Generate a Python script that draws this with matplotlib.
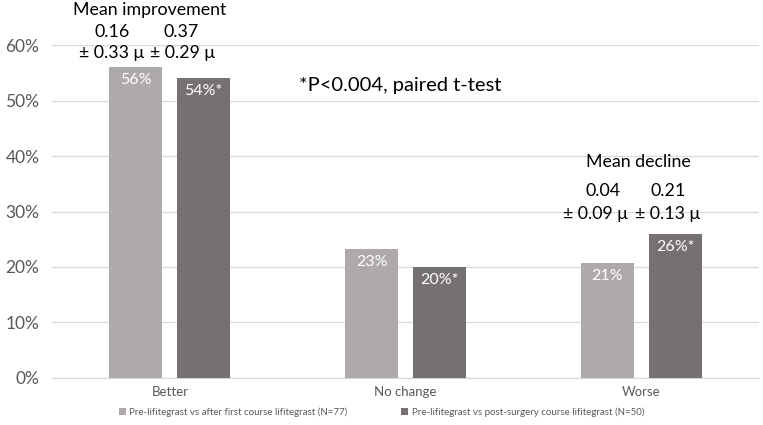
import matplotlib
matplotlib.use("Agg")
import matplotlib.pyplot as plt
import numpy as np

plt.rcParams['font.family'] = ['Lato', 'DejaVu Sans']

categories = ["Better", "No change", "Worse"]
series1_name = "Pre-lifitegrast vs after first course lifitegrast (N=77)"
series2_name = "Pre-lifitegrast vs post-surgery course lifitegrast (N=50)"
series1 = [0.56, 0.233, 0.207]
series2 = [0.54, 0.20, 0.259]
labels1 = ["56%", "23%", "21%"]
labels2 = ["54%*", "20%*", "26%*"]
yticks = [0, 0.1, 0.2, 0.3, 0.4, 0.5, 0.6]
ytick_labels = ["0%", "10%", "20%", "30%", "40%", "50%", "60%"]

c1 = "#AEAAAA"
c2 = "#767171"
grid_c = "#D9D9D9"
txt_c = "#595959"

fig = plt.figure(figsize=(7.63, 4.25), dpi=100)
ax = fig.add_axes([0.068, 0.1106, 0.927, 0.7835])

x = np.arange(len(categories))
w = 0.225
off = 0.144
b1 = ax.bar(x - off, series1, w, color=c1, label=series1_name, zorder=3)
b2 = ax.bar(x + off, series2, w, color=c2, label=series2_name, zorder=3)

for rect, lab in zip(b1, labels1):
    ax.text(rect.get_x() + rect.get_width() / 2, rect.get_height() - 0.011, lab,
            ha="center", va="top", color="white", fontsize=11.5)
for rect, lab in zip(b2, labels2):
    ax.text(rect.get_x() + rect.get_width() / 2, rect.get_height() - 0.011, lab,
            ha="center", va="top", color="white", fontsize=11.5)

ax.set_xlim(-0.5, 2.5)
ax.set_ylim(0, 0.6)
ax.set_yticks(yticks)
ax.set_yticklabels(ytick_labels, color=txt_c, fontsize=12.5)
ax.set_xticks(x)
ax.set_xticklabels(categories, color=txt_c, fontsize=9.5)
ax.tick_params(axis="both", length=0)
ax.tick_params(axis="y", pad=9)
ax.tick_params(axis="x", pad=6)
ax.yaxis.grid(True, color=grid_c, linewidth=0.9, zorder=0)
for s in ["top", "right", "left"]:
    ax.spines[s].set_visible(False)
ax.spines["bottom"].set_color(grid_c)
ax.spines["bottom"].set_linewidth(0.9)
ax.spines["bottom"].set_zorder(0)

def ftext(px, py, s, size=12.8, **kw):
    fig.text(px / 763, 1 - py / 425, s, ha="center", va="center", fontsize=size, color="black", **kw)

ftext(150, 10, "Mean improvement")
ftext(112, 32, "0.16")
ftext(112, 53, "± 0.33 μ")
ftext(181, 32, "0.37")
ftext(183, 53, "± 0.29 μ")
ftext(400, 86, "*P<0.004, paired t-test", size=14.5)
ftext(638, 162, "Mean decline")
ftext(603, 191, "0.04")
ftext(595, 214, "± 0.09 μ")
ftext(668, 191, "0.21")
ftext(668, 214, "± 0.13 μ")

leg = fig.legend(loc="center", bbox_to_anchor=(0.5, 1 - 412 / 425), ncol=2, frameon=False,
                 fontsize=7, handlelength=0.7, handleheight=0.7, handletextpad=0.4,
                 columnspacing=5.5)
for t in leg.get_texts():
    t.set_color(txt_c)

fig.savefig("out.png", dpi=100)
